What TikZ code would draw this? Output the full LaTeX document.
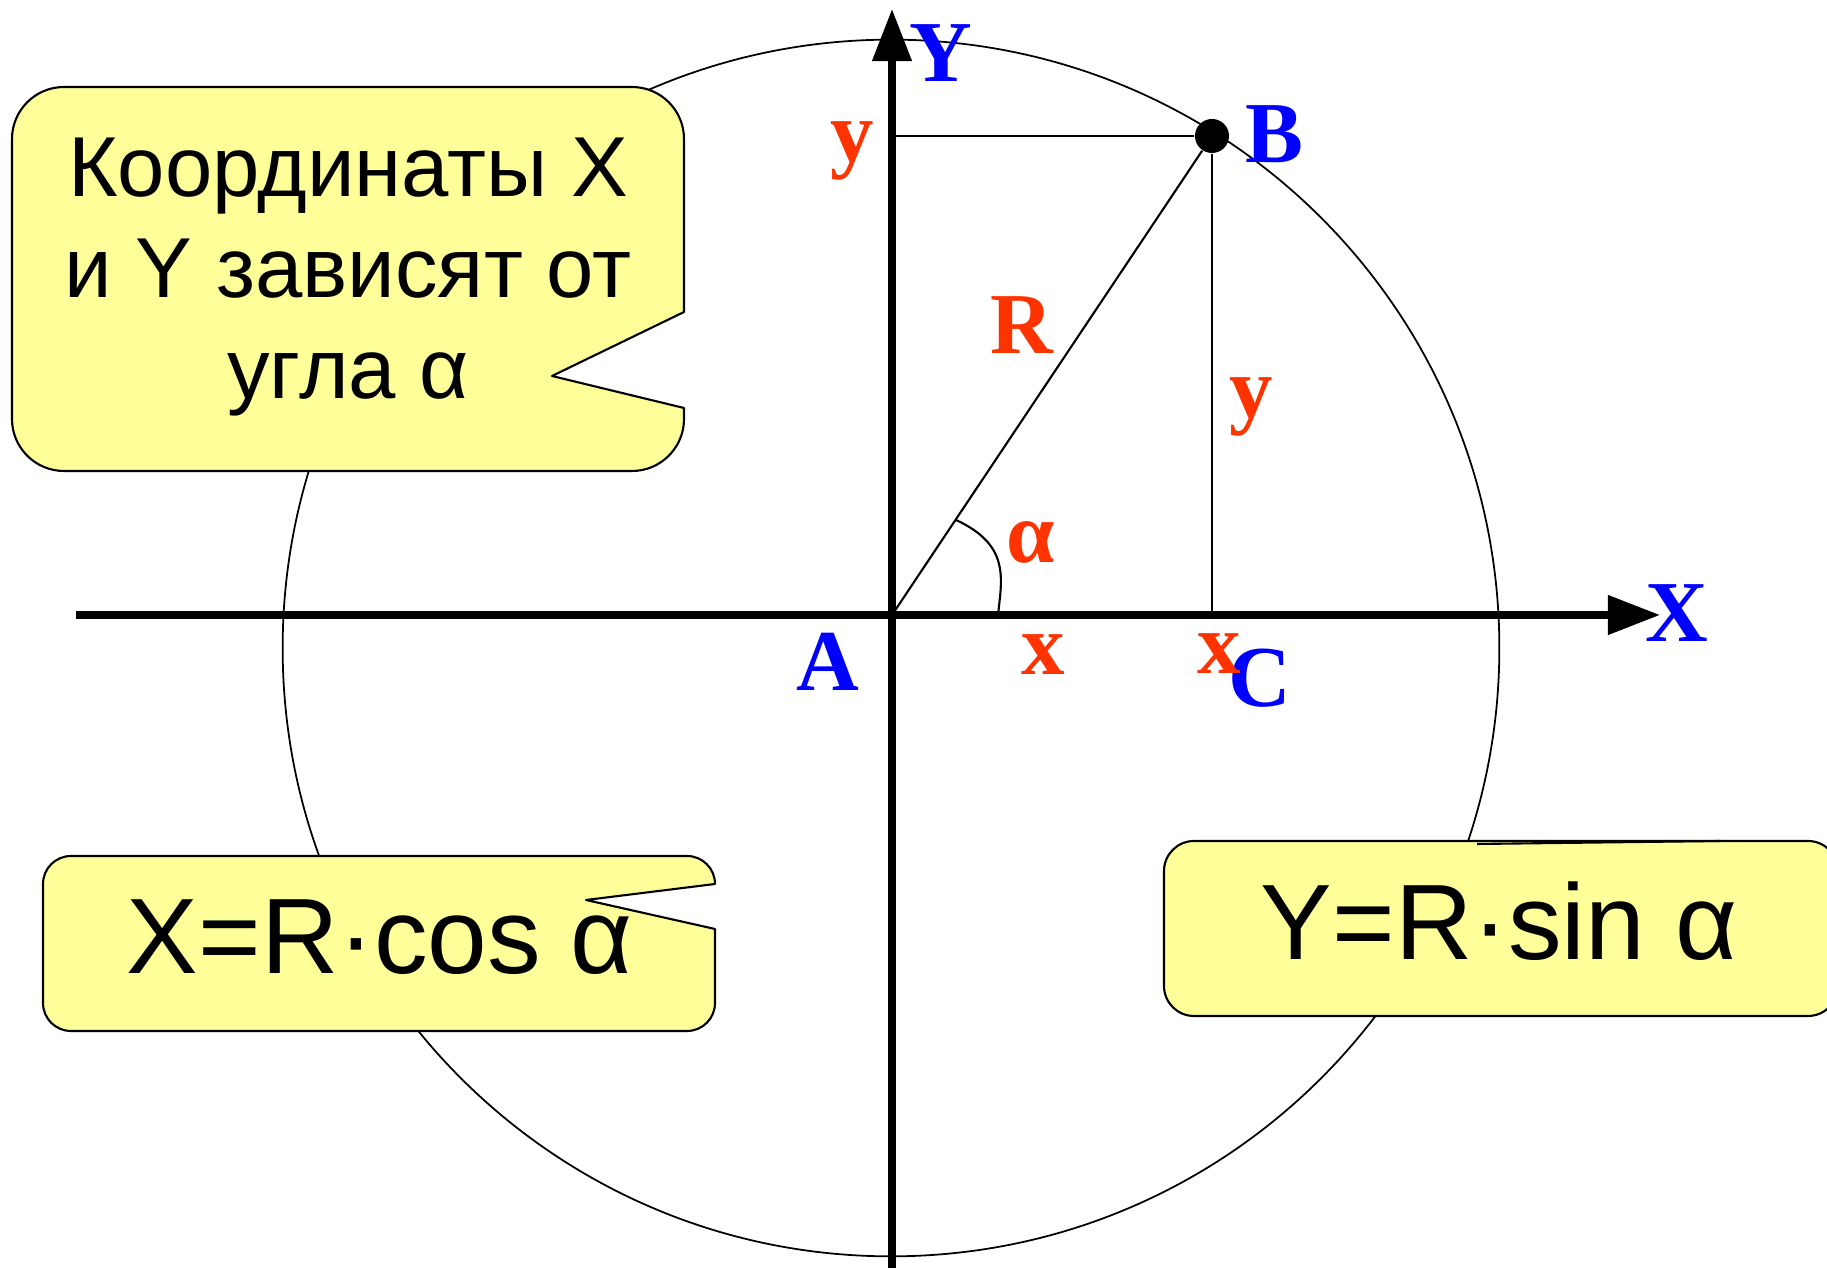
\documentclass[tikz,border=0pt]{standalone}
\usepackage{fontspec}
\newfontfamily\calloutfont{Liberation Sans}
\newfontfamily\labelfont{Liberation Serif}
\usetikzlibrary{arrows.meta}
\definecolor{labelblue}{RGB}{0,0,255}
\definecolor{labelred}{RGB}{255,51,0}
\definecolor{notefill}{RGB}{255,255,153}

\begin{document}
\begin{tikzpicture}[x=0.01cm,y=-0.01cm]
\tikzset{
  axisline/.style={draw=black,line width=2.1pt,-{Triangle[length=5.2mm,width=3.8mm]}},
  thinline/.style={draw=black,line width=0.6pt},
  circleline/.style={draw=black,line width=0.5pt},
  calloutbox/.style={draw=black,fill=notefill,line width=0.6pt,line join=round},
  callouttext/.style={inner sep=0pt,text=black,align=center},
  notefont/.style={font=\calloutfont\fontsize{24.2}{28.7}\selectfont},
  formulafont/.style={font=\calloutfont\fontsize{30.5}{34}\selectfont},
  bluelabel/.style={inner sep=0pt,text=labelblue,font=\labelfont\bfseries\fontsize{24.7}{28}\selectfont},
  redlabel/.style={inner sep=0pt,text=labelred,font=\labelfont\bfseries\fontsize{24.7}{28}\selectfont},
  dotnode/.style={circle,fill=black,minimum size=3.4mm,inner sep=0pt}
}
\useasboundingbox (0,0) rectangle (1827,1268);
\coordinate (c_M) at (891,648);
\draw[circleline] (c_M) circle[radius=6.08cm];
\draw[calloutbox] (12,139) .. controls (12,110.3) and (35.3,87) .. (64,87) -- (632,87)
  .. controls (660.7,87) and (684,110.3) .. (684,139) -- (684,312) -- (552,376) -- (684,408) -- (684,419)
  .. controls (684,447.7) and (660.7,471) .. (632,471) -- (64,471)
  .. controls (35.3,471) and (12,447.7) .. (12,419) -- cycle;
\draw[calloutbox] (43,884) .. controls (43,868.5) and (55.5,856) .. (71,856) -- (687,856)
  .. controls (702.5,856) and (715,868.5) .. (715,884) -- (586,900) -- (715,929) -- (715,1003)
  .. controls (715,1018.5) and (702.5,1031) .. (687,1031) -- (71,1031)
  .. controls (55.5,1031) and (43,1018.5) .. (43,1003) -- cycle;
\draw[calloutbox,rounded corners=0.3cm] (1164,841) rectangle (1838,1016);
\draw[thinline] (1477,844) -- (1720,841);
\node[callouttext,notefont] (n_note) at (348,277) {Координаты X\\и Y зависят от\\угла α};
\node[callouttext,formulafont] (n_cos) at (380,937) {X=R·cos α};
\node[callouttext,formulafont] (n_sin) at (1499,921) {Y=R·sin α};
\coordinate (c_O) at (892,615);
\coordinate (c_Xbeg) at (76,615);
\coordinate (c_Xend) at (1660,615);
\coordinate (c_Ybeg) at (892,1268);
\coordinate (c_Yend) at (892,9);
\coordinate (c_Bx) at (1212,615);
\coordinate (c_By) at (892,136);
\coordinate (c_arcA) at (956,520);
\coordinate (c_arcB) at (998,615);
\node[dotnode] (n_B) at (1212,136) {};
\draw[thinline] (c_By) -- (n_B);
\draw[thinline] (n_B) -- (c_Bx);
\draw[thinline] (c_O) -- (n_B);
\draw[thinline] (c_arcA) .. controls (1010,545) and (1002,578) .. (c_arcB);
\draw[axisline] (c_Xbeg) -- (c_Xend);
\draw[axisline] (c_Ybeg) -- (c_Yend);
\node[bluelabel] (n_Ylab) at (941,53) {Y};
\node[bluelabel] (n_Blab) at (1274,134) {B};
\node[bluelabel] (n_Alab) at (828,662) {A};
\node[bluelabel] (n_Clab) at (1260,678) {C};
\node[bluelabel] (n_Xlab) at (1677,613) {X};
\node[redlabel] (n_ytop) at (852,151) {y};
\node[redlabel] (n_yright) at (1251,407) {y};
\node[redlabel] (n_Rlab) at (1022,325) {R};
\node[redlabel] (n_alpha) at (1031,542) {α};
\node[redlabel] (n_xmid) at (1043,655) {x};
\node[redlabel] (n_xright) at (1219,654) {x};
\end{tikzpicture}
\end{document}
